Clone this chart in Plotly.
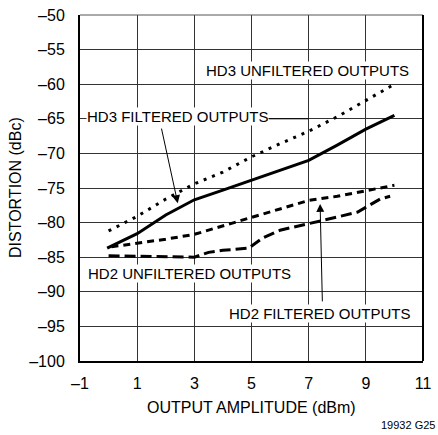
import plotly.graph_objects as go

# Output amplitude (dBm) and distortion (dBc) for each harmonic / output type
hd3_unfilt_x = [0, 1, 2, 3, 4, 5, 6, 7, 8, 9, 10]
hd3_unfilt_y = [-81.2, -79.1, -76.6, -74.4, -72.7, -70.5, -68.6, -66.8, -64.7, -62.4, -60.0]

hd3_filt_x = [-0.05, 1, 2, 3, 4, 5, 6, 7, 8, 9, 10]
hd3_filt_y = [-83.7, -81.6, -78.9, -76.7, -75.3, -73.9, -72.4, -71.0, -68.8, -66.5, -64.5]

hd2_filt_x = [0.1, 1, 2, 3, 4, 5, 6, 7, 8, 9, 10]
hd2_filt_y = [-83.5, -83.0, -82.4, -81.7, -80.5, -79.3, -78.1, -76.8, -76.2, -75.4, -74.6]

hd2_unfilt_x = [0, 1, 2, 3, 3.5, 4, 4.9, 5.4, 6, 7, 8, 8.7, 9, 9.5, 9.85]
hd2_unfilt_y = [-84.8, -84.9, -85.0, -85.0, -84.3, -84.0, -83.7, -82.2, -81.1, -80.2, -79.2,
                -78.5, -77.8, -76.6, -76.2]

x_ticks = [-1, 1, 3, 5, 7, 9, 11]
x_tick_text = ["–1", "1", "3", "5", "7", "9", "11"]
y_ticks = [-100, -95, -90, -85, -80, -75, -70, -65, -60, -55, -50]
y_tick_text = ["–100", "–95", "–90", "–85", "–80", "–75", "–70", "–65", "–60", "–55", "–50"]

FONT = "Liberation Sans, Arial, sans-serif"

fig = go.Figure()

fig.add_trace(go.Scatter(x=hd3_unfilt_x, y=hd3_unfilt_y, mode="lines",
                         line=dict(color="black", width=3, dash="3px,6px"),
                         name="HD3 UNFILTERED OUTPUTS"))
fig.add_trace(go.Scatter(x=hd3_filt_x, y=hd3_filt_y, mode="lines",
                         line=dict(color="black", width=3),
                         name="HD3 FILTERED OUTPUTS"))
fig.add_trace(go.Scatter(x=hd2_filt_x, y=hd2_filt_y, mode="lines",
                         line=dict(color="black", width=3, dash="7px,5px"),
                         name="HD2 FILTERED OUTPUTS"))
fig.add_trace(go.Scatter(x=hd2_unfilt_x, y=hd2_unfilt_y, mode="lines",
                         line=dict(color="black", width=3, dash="11px,5px"),
                         name="HD2 UNFILTERED OUTPUTS"))

label_font = dict(family=FONT, size=15, color="black")

annotations = [
    # curve labels
    dict(x=6.97, y=-58.0, text="HD3 UNFILTERED OUTPUTS", showarrow=False,
         font=label_font, bgcolor="white", borderpad=0),
    dict(x=2.42, y=-64.7, text="HD3 FILTERED OUTPUTS", showarrow=False,
         font=label_font, bgcolor="white", borderpad=0),
    dict(x=2.83, y=-87.3, text="HD2 UNFILTERED OUTPUTS", showarrow=False,
         font=label_font, bgcolor="white", borderpad=0),
    dict(x=7.39, y=-93.1, text="HD2 FILTERED OUTPUTS", showarrow=False,
         font=label_font, bgcolor="white", borderpad=0),
    # pointer arrows
    dict(x=2.42, y=-77.2, ax=1.84, ay=-66.2, axref="x", ayref="y", text="",
         showarrow=True, arrowhead=2, arrowsize=1.6, arrowwidth=1, arrowcolor="black"),
    dict(x=7.40, y=-77.3, ax=7.48, ay=-91.6, axref="x", ayref="y", text="",
         showarrow=True, arrowhead=2, arrowsize=1.6, arrowwidth=1, arrowcolor="black"),
    # axis titles
    dict(x=0.5, y=0, xref="paper", yref="paper", text="OUTPUT AMPLITUDE (dBm)",
         showarrow=False, yanchor="middle", yshift=-46,
         font=dict(family=FONT, size=16, color="black")),
    dict(x=0, y=0.5, xref="paper", yref="paper", text="DISTORTION (dBc)",
         showarrow=False, textangle=-90, xanchor="center", xshift=-65,
         font=dict(family=FONT, size=16, color="black")),
    dict(x=1, y=0, xref="paper", yref="paper", text="19932 G25",
         showarrow=False, xanchor="right", yanchor="middle", yshift=-64, xshift=14,
         font=dict(family=FONT, size=11, color="black")),
]

shapes = [
    # leader line after the HD3 filtered label
    dict(type="line", x0=5.6, x1=7.0, y0=-65, y1=-65, xref="x", yref="y",
         line=dict(color="black", width=1)),
    # top and right edges of the frame
    dict(type="line", x0=0, x1=1, y0=1, y1=1, xref="paper", yref="paper",
         line=dict(color="#555", width=1)),
    dict(type="line", x0=1, x1=1, y0=0, y1=1, xref="paper", yref="paper",
         line=dict(color="black", width=2)),
]

fig.update_layout(
    width=438, height=435,
    margin=dict(l=80, r=7, t=10, b=74),
    paper_bgcolor="white", plot_bgcolor="white",
    showlegend=False,
    annotations=annotations,
    shapes=shapes,
    font=dict(family=FONT, size=16, color="black"),
)

fig.update_xaxes(range=[-1, 11], tickvals=x_ticks, ticktext=x_tick_text,
                 showgrid=True, gridcolor="#333", gridwidth=1,
                 showline=True, linecolor="black", linewidth=2,
                 ticks="", ticklabelstandoff=7, ticklabeloverflow="allow",
                 zeroline=False,
                 tickfont=dict(family=FONT, size=16, color="black"))
fig.update_yaxes(range=[-100, -50], tickvals=y_ticks, ticktext=y_tick_text,
                 showgrid=True, gridcolor="#333", gridwidth=1,
                 showline=True, linecolor="black", linewidth=2,
                 ticks="", ticklabelstandoff=10, ticklabeloverflow="allow",
                 zeroline=False,
                 tickfont=dict(family=FONT, size=16, color="black"))

fig.write_html("out.html")
